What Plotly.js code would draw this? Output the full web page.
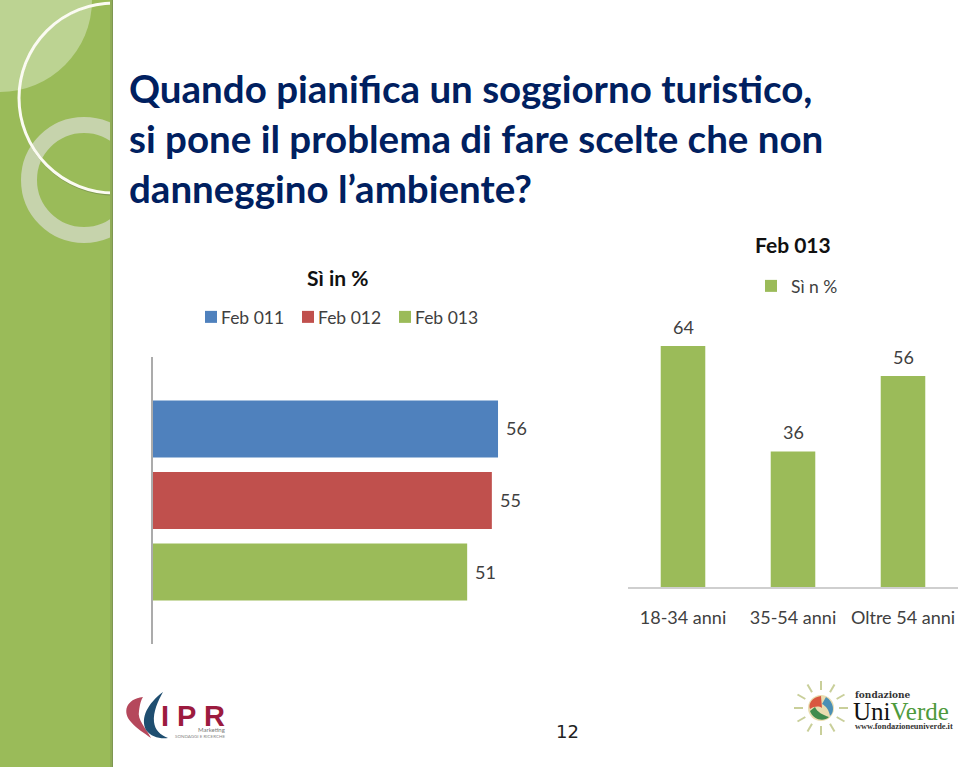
<!DOCTYPE html>
<html><head><meta charset="utf-8">
<script src="https://cdn.plot.ly/plotly-3.0.1.min.js"></script>
<style>html,body{margin:0;padding:0;background:#fff}#c{width:960px;height:767px}
/* the reference keeps its legend text close to the swatch */
.legendtext{transform:translateX(-10px)}</style>
</head><body><div id="c"></div>
<script>
// ---- data ----
const headline = "<b>Quando pianifica un soggiorno turistico,<br>si pone il problema di fare scelte che non<br>danneggino l’ambiente?</b>";
const leftTitle = "Sì in %";
const leftCategory = ["Sì in %"];
const leftSeriesNames = ["Feb 011", "Feb 012", "Feb 013"];
const leftValues = [56, 55, 51];
const leftColors = ["#4F81BD", "#C0504D", "#9BBB59"];
const rightTitle = "Feb 013";
const rightSeriesName = "Sì n %";
const rightCategories = ["18-34 anni", "35-54 anni", "Oltre 54 anni"];
const rightValues = [64, 36, 56];
const rightColor = "#9BBB59";
const pageNumber = "12";

// ---- page helpers (decoration only) ----
const W = 960, H = 767;
const px = x => x / W, py = y => 1 - y / H;
const FONT = "Lato, 'Open Sans', sans-serif";
const rect = (x0, y0, x1, y1, fill) => ({type:"rect", xref:"paper", yref:"paper", layer:"below",
  x0:px(x0), x1:px(x1), y0:py(y0), y1:py(y1), fillcolor:fill, line:{width:0}});
const circle = (cx, cy, r, fill, lineColor, lineWidth) => ({type:"circle", xref:"paper", yref:"paper", layer:"below",
  x0:px(cx-r), x1:px(cx+r), y0:py(cy-r), y1:py(cy+r), fillcolor:fill||"rgba(0,0,0,0)",
  line:{color:lineColor||"rgba(0,0,0,0)", width:lineWidth||0}});
const path = (d, fill) => ({type:"path", xref:"paper", yref:"paper", layer:"below", fillcolor:fill, line:{width:0},
  path:d.replace(/(-?[\d.]+),(-?[\d.]+)/g, (m,a,b)=>px(+a).toFixed(5)+","+py(+b).toFixed(5))});
const seg = (x0,y0,x1,y1,color,w) => ({type:"line", xref:"paper", yref:"paper", layer:"below",
  x0:px(x0), x1:px(x1), y0:py(y0), y1:py(y1), line:{color:color,width:w}});
const note = (text,x,y,size,color,anchor,family) => ({text:text, xref:"paper", yref:"paper", x:px(x), y:py(y),
  showarrow:false, xanchor:anchor||"center", yanchor:"middle", font:{size:size,color:color||"#000",family:family||FONT}});

// ---- sidebar ----
const shapes = [
  rect(0,0,113,H,"#9ABB59"),
  circle(0,0,92,"#BCD392"),
  circle(84,180,55,null,"#C6D3AC",16),
  circle(115,99,96,null,"#7f9a50",1.5),
  circle(114,98,95,null,"#FBFBF2",3),
  rect(113,0,230,H,"#FFFFFF"),
  rect(110,0,112,H,"#90AC57"),
  rect(112,0,113,H,"#7E9652")
];

// ---- IPR logo ----
shapes.push(path("M143,697 C126,699 122,712 131,722 C137,729 144,733 151,738 C146,728 137,720 139,711 C140,704 141,700 143,697 Z","#B5485C"));
shapes.push(path("M163,692 C148,703 140,718 146,730 C151,737 160,739 168,738 C160,735 155,730 154,722 C153,712 158,701 163,692 Z","#1F4E70"));

// ---- UniVerde logo ----
[[0,-1],[0.5,-0.87],[0.87,-0.5],[1,0],[0.87,0.5],[0.5,0.87],[0,1],[-0.5,0.87],[-0.87,0.5],[-1,0],[-0.87,-0.5],[-0.5,-0.87]]
  .forEach(d => shapes.push(seg(821+d[0]*18, 708+d[1]*18, 821+d[0]*27, 708+d[1]*27, "#C9CF9A", 2)));
shapes.push(circle(821,708,13,"#E9DDB0"));
shapes.push(path("M821,696 C812,697 808,704 810,709 C815,706 819,706 822,708 Z","#D9573F"));
shapes.push(path("M826,697 C834,702 835,712 830,716 C829,710 826,706 822,704 Z","#4B8FB5"));
shapes.push(path("M810,711 C813,720 824,722 829,717 C823,715 817,712 815,707 Z","#3F8C4E"));

// ---- traces ----
const traces = leftSeriesNames.map((name,i) => ({
  type:"bar", orientation:"h", name:name, y:leftCategory, x:[leftValues[i]],
  marker:{color:leftColors[i]}, xaxis:"x", yaxis:"y", legend:"legend", cliponaxis:false, hoverinfo:"x+name"
}));
traces.push({type:"bar", name:rightSeriesName, x:rightCategories, y:rightValues, width:0.405,
  marker:{color:rightColor}, xaxis:"x2", yaxis:"y2", legend:"legend2", showlegend:true, cliponaxis:false});

// ---- text ----
const annotations = [
  note("<b>"+leftTitle+"</b>",337,277,21,"#111"),
  note("<b>"+rightTitle+"</b>",793,245,21,"#111"),
  note(pageNumber,567,731,18,"#222","center","'DejaVu Sans'"),
  note("<b>I P R</b>",193,715.5,29,"#9C1B3F","center","'Liberation Sans'"),
  note("Marketing",227,729,6,"#777","right"),
  note("SONDAGGI E RICERCHE",227,736.5,4.5,"#888","right"),
  note("<b>fondazione</b>",853,695,9,"#333","left","'DejaVu Serif'"),
  note("Uni<span style='color:#4E9A3C'>Verde</span>",851,711,25,"#111","left","'Liberation Serif'"),
  note("<b>www.fondazioneuniverde.it</b>",853,726,8.4,"#333","left","'Liberation Serif'")
];
// value labels sit at the data position, through the axes
leftValues.forEach((v,i) => annotations.push({xref:"x", yref:"paper", x:v, y:py([428,500,572][i]),
  text:String(v), showarrow:false, xanchor:"left", yanchor:"middle", xshift:6, font:{size:18,color:"#404040",family:FONT}}));
rightValues.forEach((v,i) => annotations.push({xref:"x2", yref:"y2", x:rightCategories[i], y:v,
  text:String(v), showarrow:false, xanchor:"center", yanchor:"bottom", yshift:6, font:{size:18,color:"#404040",family:FONT}}));

const layout = {
  width:W, height:H, margin:{l:0,r:0,t:0,b:0}, paper_bgcolor:"#fff", plot_bgcolor:"rgba(0,0,0,0)",
  font:{family:FONT,color:"#404040"},
  title:{text:headline, x:px(129), xanchor:"left", xref:"paper", y:py(103), yanchor:"middle",
    font:{family:FONT,size:38.5,color:"#002060"}},
  barmode:"group", bargap:0.2526, bargroupgap:0.2,
  xaxis:{domain:[px(152.5),px(522.7)], range:[0,60], anchor:"y", visible:false, fixedrange:true},
  yaxis:{domain:[py(644),py(357)], autorange:"reversed", anchor:"x", showticklabels:false, ticks:"",
    showline:true, linecolor:"#ABABAB", linewidth:2, showgrid:false, zeroline:false, fixedrange:true},
  xaxis2:{domain:[px(628),px(958)], anchor:"y2", showline:true, linecolor:"#CFCFCF", linewidth:1.5, ticks:"",
    ticklabelstandoff:14, tickfont:{size:18,color:"#404040",family:FONT}, showgrid:false, fixedrange:true},
  yaxis2:{domain:[py(587),py(323.4)], range:[0,70], anchor:"x2", visible:false, fixedrange:true},
  legend:{orientation:"h", x:px(191), xanchor:"left", y:py(317), yanchor:"middle", entrywidth:52, bgcolor:"rgba(0,0,0,0)",
    font:{size:17.5,color:"#404040",family:FONT}},
  legend2:{orientation:"h", x:px(751), xanchor:"left", y:py(286), yanchor:"middle", bgcolor:"rgba(0,0,0,0)",
    font:{size:17.5,color:"#404040",family:FONT}},
  shapes:shapes, annotations:annotations
};
Plotly.newPlot("c", traces, layout, {displayModeBar:false, staticPlot:true});
</script></body></html>
